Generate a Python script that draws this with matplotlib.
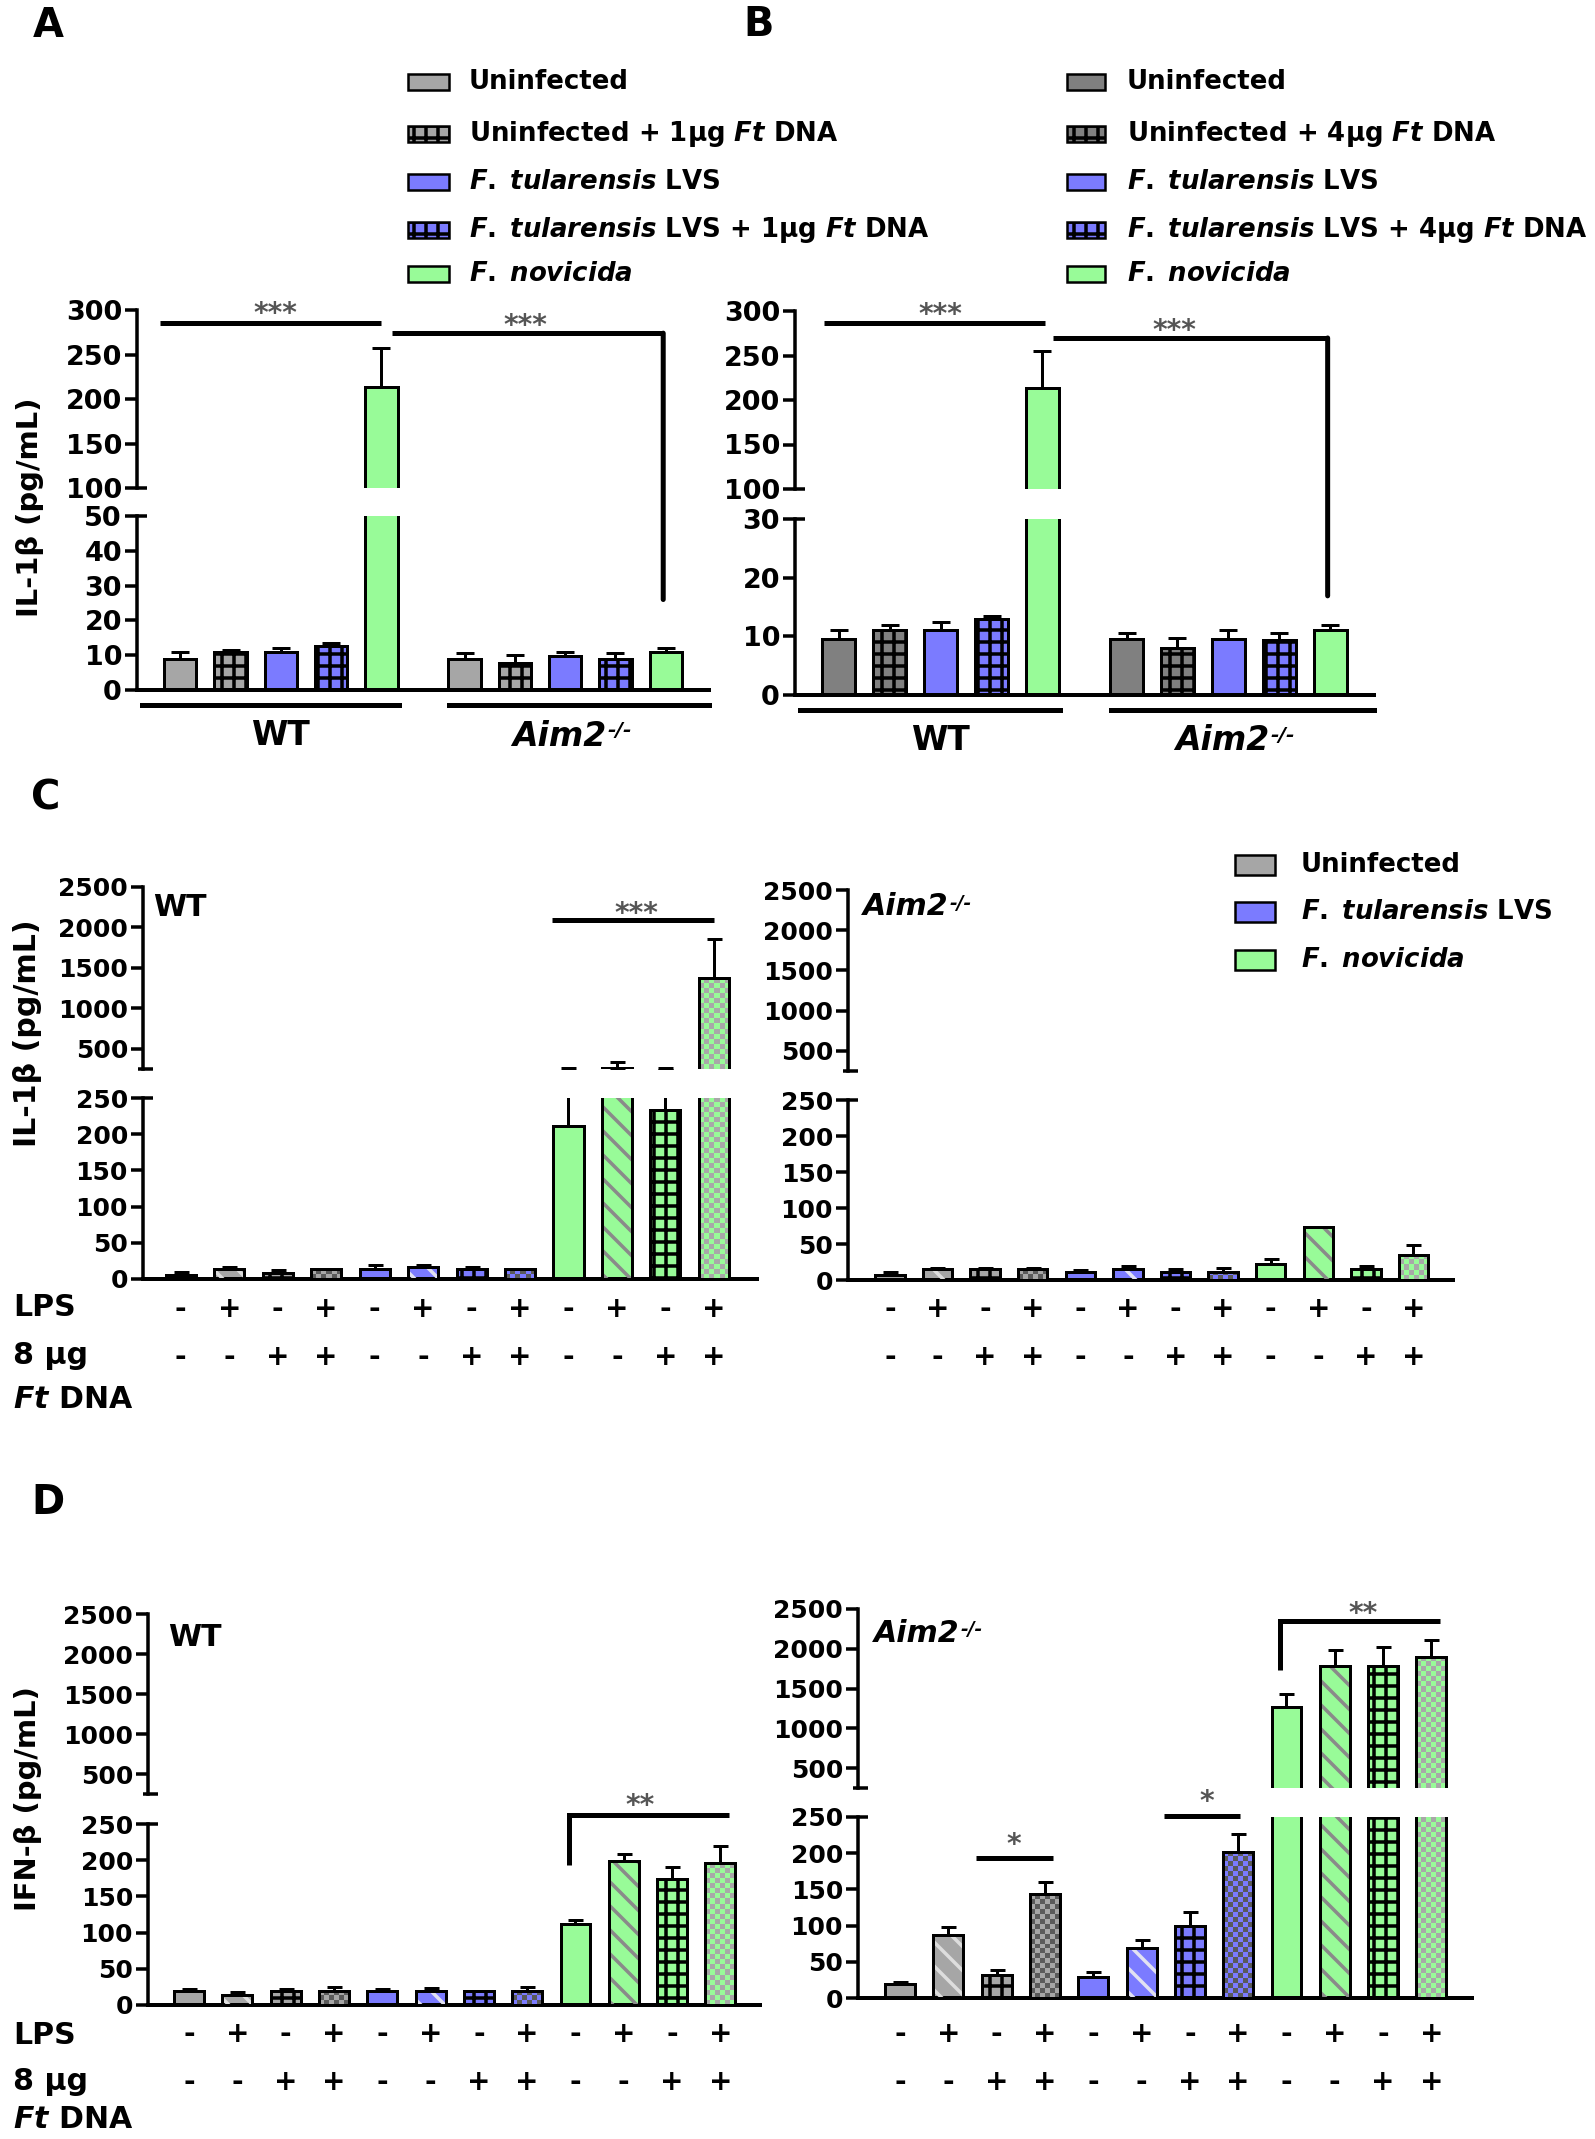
import numpy as np
import matplotlib
matplotlib.use('Agg')
import matplotlib.pyplot as plt
from matplotlib.patches import Rectangle, ConnectionPatch
from matplotlib.lines import Line2D
from matplotlib.colors import ListedColormap
from matplotlib.transforms import blended_transform_factory

W, H, DPI = 1595, 2139, 72

plt.rcParams['font.family'] = 'DejaVu Sans'
plt.rcParams['font.weight'] = 'bold'
plt.rcParams['mathtext.fontset'] = 'custom'
plt.rcParams['mathtext.rm'] = 'DejaVu Sans:bold'
plt.rcParams['mathtext.it'] = 'DejaVu Sans:italic:bold'
plt.rcParams['mathtext.bf'] = 'DejaVu Sans:bold'
plt.rcParams['hatch.linewidth'] = 3.5

GRAY = '#a6a6a6'
GRAY_B = '#808080'
BLUE = '#7b7bff'
GREEN = '#98fb98'

# ---- data (mean, sem) ----
# panel A: IL-1b, 1ug Ft DNA
a_wt = [9, 11, 11, 12.5, 214]
a_wt_sem = [2, 0.6, 1, 1, 43]
a_ko = [9, 7.7, 9.7, 9, 11]
a_ko_sem = [1.7, 2.3, 1.3, 1.5, 1]
# panel B: IL-1b, 4ug Ft DNA
b_wt = [9.6, 11.1, 11.1, 13, 213]
b_wt_sem = [1.4, 0.9, 1.3, 0.4, 42]
b_ko = [9.6, 8, 9.6, 9.3, 11.1]
b_ko_sem = [1.0, 1.8, 1.4, 1.2, 0.9]
# panel C: IL-1b with LPS / 8ug Ft DNA
c_wt = [5, 13.5, 8, 13.5, 13.5, 17, 13.5, 13.5, 212, 262, 233, 1370]
c_wt_sem = [4, 2.5, 4, 0.5, 5.5, 3, 3.5, 0.5, 46, 74, 25, 482]
c_ko = [7.6, 14.7, 14.7, 14.7, 11.8, 14.7, 11.8, 11.8, 21.8, 73.5, 14.7, 35.3]
c_ko_sem = [4.2, 2.3, 1.8, 2.3, 1.7, 4.7, 2.9, 4.7, 7.6, 0, 4.7, 13.5]
# panel D: IFN-b
d_wt = [19.7, 13.8, 19.7, 19.7, 19.7, 19.7, 19.7, 19.7, 112, 199, 174, 196]
d_wt_sem = [3, 4.7, 3, 4.8, 3, 4.3, 0, 4.8, 5, 9, 16, 24]
d_ko = [19.7, 87, 31.7, 143.5, 28.7, 68.8, 99.3, 202, 1267, 1782, 1782, 1897]
d_ko_sem = [3, 10.5, 7.2, 16.5, 7.8, 11.9, 19.1, 24, 165, 197, 241, 219]

lps = ['-', '+'] * 6
dna = ['-', '-', '+', '+'] * 3

legend_a = ['Uninfected', r'Uninfected + 1µg $Ft$ DNA', r'$F.\;tularensis$ LVS',
            r'$F.\;tularensis$ LVS + 1µg $Ft$ DNA', r'$F.\;novicida$']
legend_b = ['Uninfected', r'Uninfected + 4µg $Ft$ DNA', r'$F.\;tularensis$ LVS',
            r'$F.\;tularensis$ LVS + 4µg $Ft$ DNA', r'$F.\;novicida$']
legend_c = ['Uninfected', r'$F.\;tularensis$ LVS', r'$F.\;novicida$']

fig = plt.figure(figsize=(W / DPI, H / DPI), dpi=DPI)


def px_axes(x0, x1, y0, y1):
    return fig.add_axes([x0 / W, 1 - y1 / H, (x1 - x0) / W, (y1 - y0) / H])


def fig_line(xs, ys, lw=3.5):
    fig.add_artist(Line2D([x / W for x in xs], [1 - y / H for y in ys], color='black',
                          lw=lw, transform=fig.transFigure, solid_capstyle='butt'))


def broken_pair(xl, xr, top, bot, xlim, ylim_t, ylim_b, ticks_t, ticks_b, fs, cap_left):
    ax_t = px_axes(xl, xr, *top)
    ax_b = px_axes(xl, xr, *bot)
    for ax in (ax_t, ax_b):
        ax.set_xlim(xlim)
        ax.spines['top'].set_visible(False)
        ax.spines['right'].set_visible(False)
        ax.spines['left'].set_linewidth(3.5)
        ax.tick_params(axis='y', length=12, width=3.5, labelsize=fs, pad=3)
        ax.tick_params(axis='x', bottom=False, labelbottom=False)
        ax.patch.set_alpha(0)
    ax_t.spines['bottom'].set_visible(False)
    ax_b.spines['bottom'].set_linewidth(4)
    ax_t.set_ylim(ylim_t)
    ax_b.set_ylim(ylim_b)
    ax_t.set_yticks(ticks_t)
    ax_b.set_yticks(ticks_b)
    # end caps at the axis break
    fig_line([xl - cap_left, xl + 10], [top[1], top[1]])
    fig_line([xl, xl + 10], [bot[0], bot[0]])
    return ax_t, ax_b


def draw_bars(ax, xs, vals, sems, width, faces, patterns, hcolors, capsize):
    x0, x1 = ax.get_xlim()
    y0, y1 = ax.get_ylim()
    pos = ax.get_position()
    ax_w, ax_h = pos.width * W, pos.height * H
    for x, v, s, fc, pat, hc in zip(xs, vals, sems, faces, patterns, hcolors):
        ax.bar(x, v, width, color=fc, linewidth=0, zorder=2)
        if pat in ('diag', 'grid'):
            ax.bar(x, v, width, facecolor='none', edgecolor=hc, linewidth=0,
                   hatch='\\' if pat == 'diag' else '+', zorder=3)
        if pat == 'check':
            lo, hi = max(0, y0), min(v, y1)
            if hi > lo:
                ny = max(1, int(round((hi - lo) / (y1 - y0) * ax_h / 5)))
                nx = max(1, int(round(width / (x1 - x0) * ax_w / 5)))
                cells = np.indices((ny, nx)).sum(axis=0) % 2
                ax.imshow(cells, extent=(x - width / 2, x + width / 2, lo, hi), aspect='auto',
                          interpolation='nearest', cmap=ListedColormap([fc, hc]),
                          vmin=0, vmax=1, zorder=3)
        ax.bar(x, v, width, facecolor='none', edgecolor='black', linewidth=3, zorder=4)
        ax.errorbar(x, v, yerr=[[0], [s]], fmt='none', ecolor='black', elinewidth=3,
                    capsize=capsize, capthick=3, zorder=5)
    ax.set_xlim(x0, x1)
    ax.set_ylim(y0, y1)


def stars(ax, x, y, txt, fs=28):
    ax.annotate(txt, (x, y), xytext=(0, -0.62 * fs), textcoords='offset points',
                ha='center', va='baseline', fontsize=fs, color='#555555', annotation_clip=False)


def sig(ax, xs, ys, lw=5):
    ax.plot(xs, ys, color='black', lw=lw, clip_on=False, solid_capstyle='butt',
            solid_joinstyle='miter', zorder=6)


def legend(x_box, x_txt, ys, labels, faces, hatches, bw, bh, fs=26):
    for y, lab, fc, ht in zip(ys, labels, faces, hatches):
        fig.add_artist(Rectangle((x_box / W, 1 - (y + bh / 2) / H), bw / W, bh / H,
                                 facecolor=fc, edgecolor='black', lw=2.5, hatch=ht,
                                 transform=fig.transFigure))
        fig.text(x_txt / W, 1 - y / H, lab, fontsize=fs, ha='left', va='center')


def aim2(ax, x_px, y_px, fs, ha='left'):
    t = fig.text(x_px / W, 1 - y_px / H, 'Aim2', fontsize=fs, style='italic',
                 ha=ha, va='center')
    ax.annotate('-/-', xy=(1.0, 0.95), xycoords=t, xytext=(1, 0), textcoords='offset points',
                fontsize=fs * 0.62, style='italic', ha='left', va='top', annotation_clip=False)


# ---------------- panels A and B ----------------
ab_x = np.r_[np.arange(5), np.arange(5) + 5.65]
ab_pat = ['plain', 'grid', 'plain', 'grid', 'plain'] * 2
ab_hc = ['black'] * 10


def panel_ab(xl, xr, top, bot, ylim_b, ticks_b, wt, wt_s, ko, ko_s, gray):
    ax_t, ax_b = broken_pair(xl, xr, top, bot, (-0.86, 10.51), (100, 300), ylim_b,
                             [100, 150, 200, 250, 300], ticks_b, 27, 0)
    faces = [gray, gray, BLUE, BLUE, GREEN] * 2
    for ax in (ax_t, ax_b):
        draw_bars(ax, ab_x, wt + ko, wt_s + ko_s, 0.64, faces, ab_pat, ab_hc, 9)
    tr = blended_transform_factory(ax_b.transData, ax_b.transAxes)
    off = -15 / (bot[1] - bot[0])
    ax_b.plot([-0.76, 4.35], [off, off], color='black', lw=5, transform=tr, clip_on=False)
    ax_b.plot([5.35, 10.51], [off, off], color='black', lw=5, transform=tr, clip_on=False)
    ly = -46 / (bot[1] - bot[0])
    ax_b.text(2.0, ly, 'WT', transform=tr, ha='center', va='center', fontsize=33)
    # Aim2 label centred under the knockout group
    xc = ax_b.transData.transform((7.85, 0))[0]
    aim2(ax_b, xc - 16, bot[1] + 46, 33, ha='center')
    return ax_t, ax_b


axA_t, axA_b = panel_ab(137, 709, (310, 488), (516, 690), (0, 50), [0, 10, 20, 30, 40, 50],
                        a_wt, a_wt_sem, a_ko, a_ko_sem, GRAY)
sig(axA_t, [-0.4, 4.0], [285.4, 285.4])
stars(axA_t, 1.89, 305.6, '***')
sig(axA_t, [4.2, 9.6], [274, 274])
stars(axA_t, 6.86, 292, '***')
fig.add_artist(ConnectionPatch((9.6, 274), (9.6, 26), coordsA=axA_t.transData,
                               coordsB=axA_b.transData, color='black', lw=5))

axB_t, axB_b = panel_ab(795, 1374, (311, 489), (519, 695), (0, 30), [0, 10, 20, 30],
                        b_wt, b_wt_sem, b_ko, b_ko_sem, GRAY_B)
sig(axB_t, [-0.3, 4.04], [286.5, 286.5])
stars(axB_t, 2.0, 305.6, '***')
sig(axB_t, [4.2, 9.6], [269.7, 269.7])
stars(axB_t, 6.6, 287.6, '***')
fig.add_artist(ConnectionPatch((9.6, 269.7), (9.6, 16.9), coordsA=axB_t.transData,
                               coordsB=axB_b.transData, color='black', lw=5))

fig.text(30 / W, 1 - 507 / H, 'IL-1β (pg/mL)', fontsize=29, rotation=90, ha='center', va='center')

legend(408, 469, [82, 134, 182, 230, 274], legend_a,
       [GRAY, GRAY, BLUE, BLUE, GREEN], [None, '+', None, '+', None], 41, 15)
legend(1067, 1127, [82, 134, 182, 230, 274], legend_b,
       [GRAY_B, GRAY_B, BLUE, BLUE, GREEN], [None, '+', None, '+', None], 38, 15)

# ---------------- panels C and D ----------------
cd_x = np.arange(12)
cd_faces = [GRAY] * 4 + [BLUE] * 4 + [GREEN] * 4
cd_pat = ['plain', 'diag', 'grid', 'check'] * 3
cd_hc = ['black', '#dddddd', 'black', '#5a5a5a',
         'black', '#e2e2f2', 'black', '#5a5a5a',
         'black', '#8a8a8a', 'black', '#a8a8a8']


def panel_cd(xl, xr, top, bot, xlim, vals, sems, row_y):
    ax_t, ax_b = broken_pair(xl, xr, top, bot, xlim, (250, 2500), (0, 250),
                             [500, 1000, 1500, 2000, 2500], [0, 50, 100, 150, 200, 250], 25, 5)
    for ax in (ax_t, ax_b):
        draw_bars(ax, cd_x, vals, sems, 0.62, cd_faces, cd_pat, cd_hc, 7.5)
    tr = blended_transform_factory(ax_b.transData, fig.transFigure)
    for x, l, d in zip(cd_x, lps, dna):
        ax_b.text(x, 1 - row_y[0] / H, l, transform=tr, ha='center', va='center', fontsize=28)
        ax_b.text(x, 1 - row_y[1] / H, d, transform=tr, ha='center', va='center', fontsize=28)
    return ax_t, ax_b


axC1_t, axC1_b = panel_cd(143, 757, (887, 1069), (1098, 1279), (-0.78, 11.89),
                          c_wt, c_wt_sem, (1309, 1357))
axC2_t, axC2_b = panel_cd(848, 1453, (890, 1071), (1100, 1280), (-0.88, 11.83),
                          c_ko, c_ko_sem, (1309, 1357))
axD1_t, axD1_b = panel_cd(148, 760, (1614, 1794), (1824, 2005), (-0.85, 11.82),
                          d_wt, d_wt_sem, (2034, 2082))
axD2_t, axD2_b = panel_cd(858, 1472, (1609, 1788), (1817, 1998), (-0.87, 11.84),
                          d_ko, d_ko_sem, (2034, 2082))

fig.text(153 / W, 1 - 908 / H, 'WT', fontsize=30, va='center')
aim2(axC2_t, 863, 907, 30)
fig.text(168 / W, 1 - 1638 / H, 'WT', fontsize=30, va='center')
aim2(axD2_t, 874, 1633, 30)

fig.text(28 / W, 1 - 1033 / H, 'IL-1β (pg/mL)', fontsize=30, rotation=90, ha='center', va='center')
fig.text(28 / W, 1 - 1799 / H, 'IFN-β (pg/mL)', fontsize=29, rotation=90, ha='center', va='center')

for y_lps, y_ug, y_dna in [(1308, 1356, 1399), (2035, 2081, 2120)]:
    fig.text(13 / W, 1 - y_lps / H, 'LPS', fontsize=30, va='center')
    fig.text(13 / W, 1 - y_ug / H, '8 µg', fontsize=30, va='center')
    fig.text(13 / W, 1 - y_dna / H, r'$Ft$ DNA', fontsize=30, va='center')

# significance in C and D
sig(axC1_t, [7.65, 11.0], [2092, 2092])
stars(axC1_t, 9.4, 2278, '***')
sig(axD1_b, [7.87, 7.87, 11.18], [193, 262, 262])
stars(axD1_b, 9.34, 288, '**')
sig(axD2_b, [1.57, 3.17], [193.4, 193.4])
stars(axD2_b, 2.36, 223.8, '*')
sig(axD2_b, [5.47, 7.04], [251.4, 251.4])
stars(axD2_b, 6.34, 283, '*')
sig(axD2_t, [7.87, 7.87, 11.18], [1733, 2349, 2349])
stars(axD2_t, 9.59, 2550, '**')

legend(1235, 1301, [865, 912, 960], legend_c, [GRAY, BLUE, GREEN], [None, None, None], 40, 20)

# panel letters
for lab, x, y in [('A', 33, 26), ('B', 743, 25), ('C', 31, 798), ('D', 31, 1503)]:
    fig.text(x / W, 1 - y / H, lab, fontsize=40, va='center')

fig.savefig('out.png', dpi=DPI)
